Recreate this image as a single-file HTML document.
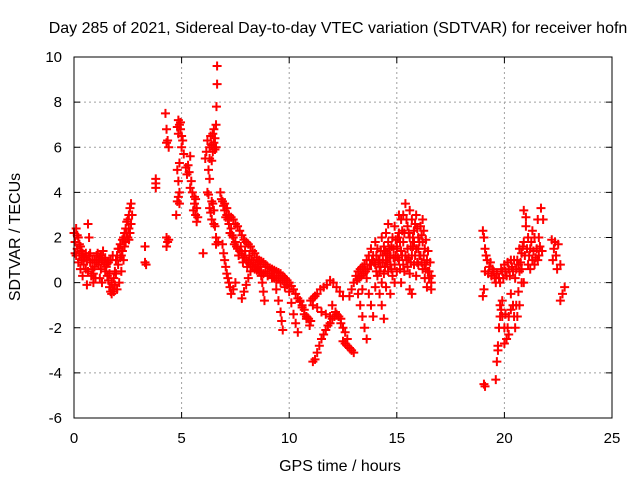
<!DOCTYPE html>
<html><head><meta charset="utf-8"><style>
body{margin:0;background:#fff}
svg{display:block;font-family:"Liberation Sans",sans-serif}
</style></head><body>
<svg id="chart" width="640" height="480">
<rect width="640" height="480" fill="#fff"/>
<text x="338" y="33" font-size="16" text-anchor="middle">Day 285 of 2021, Sidereal Day-to-day VTEC variation (SDTVAR) for receiver hofn</text>
<text x="340" y="471" font-size="16" text-anchor="middle">GPS time / hours</text>
<text transform="translate(20,237) rotate(-90)" font-size="16" text-anchor="middle">SDTVAR / TECUs</text>
<g id="grid"></g><g id="ticks"></g><g id="marks"></g>
<rect x="74" y="57" width="538" height="361" fill="none" stroke="#000" stroke-width="1"/>
</svg>
<script>
const xTicks=[0,5,10,15,20,25];
const yTicks=[-6,-4,-2,0,2,4,6,8,10];
const samples=[
[0,2.2],[0.05,1.8],[0.1,2.4],[0.15,1.5],[0.2,2.0],[0.25,1.2],[0.3,1.6],[0.35,1.0],[0.4,1.3],[0.45,0.8],[0.5,1.1],[0.55,0.6],[0.6,1.0],[0.65,0.5],[0.7,1.2],[0.75,0.9],[0.8,0.3],[0.85,1.0],[0.9,0.4],[0.95,1.0],[1.0,0.2],[1.05,0.9],[1.1,1.3],[1.15,0.8],[1.2,1.1],[1.25,0.6],[1.3,1.0],[1.35,1.4],[1.4,0.9],[1.45,1.1],[1.5,0.7],[1.55,0.3],[1.6,0.1],[1.65,-0.2],[1.7,-0.4],[1.75,-0.5],[1.8,-0.3],[1.85,0.2],[1.9,0.5],[1.95,1.0],[2.0,1.2],[2.05,0.8],[2.1,1.5],[2.15,1.7],[2.2,1.2],[2.25,1.9],[2.3,2.0],[2.35,1.6],[2.4,2.4],[2.45,2.2],[2.5,2.8],[2.55,3.0],[2.6,3.3],[2.65,2.6],[0.3,0.6],[0.4,0.3],[0.6,-0.1],[0.65,2.6],[0.7,2.0],[1.5,0.8],[1.6,0.9],[2.1,0],[2.2,0.5],[2.0,-0.3],[1.2,0.2],[1.3,0.0],[0.9,0.0],[0.1,1.2],[0.2,0.9],[1.7,1.0],[1.8,1.2],[2.3,1.0],[2.5,2.0],[2.6,2.2],
[0.05,1.3],[0.15,2.1],[0.25,1.7],[0.35,1.4],[0.45,1.1],[0.55,1.3],[0.75,1.3],[0.85,0.6],[0.95,0.7],[1.05,1.2],[1.15,1.0],[1.25,1.2],[1.45,0.5],[1.55,0.9],[1.65,0.4],[1.75,0.0],[1.85,-0.4],[1.9,-0.1],[1.95,0.4],[2.05,1.5],[2.15,1.1],[2.25,1.4],[2.35,2.2],[2.45,2.7],[2.55,2.4],[2.65,3.5],[2.7,3.0],[2.4,1.8],[2.55,1.9],
[3.3,1.6],[3.3,0.9],[3.35,0.8],[3.8,4.6],[3.8,4.4],[3.8,4.2],
[4.25,7.5],[4.3,6.8],[4.3,6.2],[4.35,6.3],[4.4,6.0],[4.3,2.0],[4.35,1.8],[4.3,1.6],[4.4,1.9],
[4.8,6.9],[4.85,7.2],[4.9,7.0],[4.95,6.8],[5.0,6.5],[5.05,6.3],[5.1,5.7],[4.8,5.0],[4.85,4.5],[4.9,4.0],[4.8,3.6],[4.75,3.0],[4.85,3.8],[5.2,5.1],[5.3,5.2],[5.35,4.9],[5.4,5.6],[5.45,4.5],
[4.85,6.6],[4.95,7.1],[5.0,6.0],[4.9,5.3],[4.9,3.5],[5.25,4.8],[5.4,4.2],
[5.5,4.0],[5.6,3.5],[5.65,3.0],[5.7,2.7],[5.6,3.8],[5.7,3.3],[5.75,2.9],[6.0,1.3],[5.55,3.2],[5.65,3.7],
[6.1,5.5],[6.15,5.8],[6.2,6.3],[6.25,5.0],[6.3,5.5],[6.35,6.5],[6.4,6.1],[6.45,5.8],[6.5,6.8],[6.55,6.4],[6.6,7.0],[6.62,7.8],[6.65,8.8],[6.65,9.6],[6.2,4.0],[6.3,3.3],[6.4,2.8],[6.45,3.5],[6.5,2.6],[6.55,2.5],[6.6,1.7],[6.25,3.9],[6.35,3.1],
[6.3,6.0],[6.4,5.4],[6.5,6.2],[6.55,5.9],[6.6,6.0],[6.45,6.6],[6.3,4.6],[6.4,3.6],[6.5,3.2],[6.6,2.0],[6.7,1.8],
[6.8,4.0],[6.9,3.6],[7.0,3.2],[7.1,3.0],[7.2,2.6],[7.3,2.4],[7.4,2.0],[7.5,1.8],[7.6,1.5],[7.7,1.4],[7.8,1.3],[7.9,1.1],[8.0,1.0],[8.1,0.9],[8.2,0.8],[8.3,0.7],[8.4,0.6],[8.5,0.55],[8.6,0.5],[8.7,0.45],[8.8,0.4],[9.0,0.3],[9.2,0.2],[9.4,0.1],[9.6,0.0],[9.8,-0.2],
[6.85,3.7],[6.95,3.4],[7.05,2.9],[7.15,2.8],[7.25,2.2],[7.35,2.1],[7.45,1.7],[7.55,1.6],[7.65,1.2],[7.75,1.6],[7.85,0.9],[7.95,1.4],[8.05,0.7],[8.15,1.2],[8.25,1.0],[8.35,0.9],[8.45,0.8],[8.55,0.7],[8.65,0.7],[8.9,0.5],[9.1,0.4],[9.3,0.3],[9.5,0.2],[9.7,0.1],[9.9,-0.1],
[7.0,3.5],[7.1,3.3],[7.2,3.0],[7.3,2.9],[7.4,2.8],[7.5,2.6],[7.6,2.5],[7.7,2.3],[7.8,2.1],[7.9,1.9],[8.0,1.8],[8.1,1.7],[8.2,1.6],[8.3,1.4],[8.4,1.3],[8.5,1.1],[8.6,1.0],[8.7,0.95],[8.8,0.9],[8.9,0.8],[9.0,0.7],[9.1,0.65],[9.2,0.6],[9.3,0.55],[9.4,0.5],[9.5,0.45],[9.6,0.4],[9.7,0.3],[9.8,0.2],[9.9,0.1],[10.0,0.0],[10.1,-0.15],[10.2,-0.3],[10.3,-0.5],[10.4,-0.7],[10.5,-0.85],[10.6,-1.0],[10.7,-1.2],[10.8,-1.5],[10.9,-1.6],[11.0,-1.7],
[6.9,1.7],[6.95,1.3],[7.0,1.0],[7.05,0.7],[7.1,0.4],[7.15,0.2],[7.2,0.0],[7.25,-0.2],[7.3,-0.5],[7.4,-0.3],[7.5,0.0],
[8.2,0.5],[8.1,0.2],[8.0,-0.1],[7.9,-0.4],[7.8,-0.7],
[8.7,0.3],[8.75,0.0],[8.8,-0.4],[8.85,-0.8],
[9.3,0.2],[9.4,-0.3],[9.5,-0.8],[9.6,-1.3],[9.65,-1.7],[9.7,-2.1],
[10.0,-0.4],[10.1,-0.9],[10.2,-1.4],[10.3,-1.8],[10.4,-2.2],
[10.5,-0.8],[10.6,-1.1],[10.7,-1.4],[10.8,-1.6],[10.95,-1.9],
[11.0,-0.8],[11.1,-0.7],[11.2,-0.6],[11.3,-0.5],[11.45,-0.3],[11.6,-0.2],[11.75,-0.1],[11.9,0.1],[12.05,0.0],[12.2,-0.2],[12.35,-0.4],[12.5,-0.6],
[11.1,-1.0],[11.3,-1.1],[11.5,-1.3],[11.7,-1.4],[11.9,-1.5],[12.0,-1.0],[12.15,-1.3],[12.3,-1.5],[12.4,-1.8],[12.5,-2.0],[12.6,-2.2],[12.7,-2.5],
[11.1,-3.5],[11.2,-3.4],[11.3,-3.1],[11.4,-2.8],[11.5,-2.5],[11.6,-2.3],[11.7,-2.1],[11.8,-1.9],[11.9,-1.8],[12.0,-1.6],[12.1,-1.5],[12.2,-1.4],[12.3,-1.5],[12.4,-1.6],
[12.5,-2.6],[12.6,-2.7],[12.7,-2.8],[12.8,-2.9],[12.9,-3.0],[13.0,-3.1],
[12.8,-0.6],[12.9,-0.3],[13.0,0.0],[13.1,0.3],[13.2,0.5],[13.3,0.6],[13.4,0.7],[13.5,0.8],[13.6,1.0],[13.7,1.2],[13.8,1.5],[13.9,1.2],[14.0,1.8],[14.1,1.5],[14.2,1.0],[14.3,2.0],[14.4,1.6],[14.5,2.2],[14.6,1.8],[14.7,1.2],[14.8,2.0],[14.9,2.5],[15.0,1.6],[15.1,2.2],[15.2,2.8],[15.3,3.0],[15.4,3.5],[15.5,2.5],[15.6,2.0],[15.7,2.8],[15.8,2.3],[15.9,3.0],[16.0,2.0],[16.1,2.5],[16.2,1.8],[16.3,1.5],[16.4,1.0],[16.5,0.5],[16.6,-0.3],
[13.2,-0.5],[13.3,-1.0],[13.4,-1.5],[13.5,-2.0],[13.6,-2.5],[13.4,-0.3],[13.7,-0.5],[13.8,-1.0],[13.9,-1.5],[14.0,-0.2],[14.1,0.3],[14.2,-0.5],[14.3,-1.0],[14.4,-1.6],[14.5,-0.2],[14.6,0.5],[14.7,-0.5],[14.8,0.3],[14.9,0.8],[15.0,0.5],[15.1,1.0],[15.2,0.0],[15.3,0.8],[15.4,1.2],[15.5,0.7],[15.6,0.4],[15.7,1.2],[15.8,0.8],[15.9,1.5],[16.0,0.8],[16.1,1.2],[16.2,0.6],[16.3,0.2],[16.4,-0.2],[16.5,0.2],[15.6,-0.3],[15.7,-0.5],[13.8,0.8],[14.0,0.8],[14.2,0.5],[14.5,1.0],[14.7,0.8],[15.0,1.5],[15.3,1.8],[15.5,1.5],[16.0,1.5],[15.8,1.8],[14.9,0.0],[14.3,0.0],[13.6,0.2],[14.6,2.6],[15.1,3.0],[15.6,3.2],[16.2,2.8],[14.4,0.4],[15.2,1.4],[15.9,0.3],[16.3,0.8],[16.6,0.3],
[13.15,0.1],[13.25,0.2],[13.35,0.3],[13.45,0.4],[13.55,0.5],[13.65,0.6],[13.75,0.8],[13.85,1.0],[13.95,0.9],[14.05,1.2],[14.15,1.0],[14.25,1.4],[14.35,1.2],[14.45,1.4],[14.55,1.3],[14.65,1.5],[14.75,1.6],[14.85,1.5],[14.95,1.9],[15.05,2.0],[15.15,1.8],[15.25,2.3],[15.35,2.2],[15.45,2.8],[15.55,2.2],[15.65,1.6],[15.75,2.0],[15.85,2.6],[15.95,2.4],[16.05,1.8],[16.15,2.1],[16.25,2.3],[16.35,1.9],[16.45,1.4],[16.55,0.9],[16.6,0.0],
[14.05,0.5],[14.15,0.9],[14.25,0.7],[14.35,0.9],[14.45,0.7],[14.55,0.9],[14.65,1.1],[14.75,0.6],[14.85,1.1],[14.95,1.2],[15.05,1.1],[15.15,0.6],[15.25,1.2],[15.35,0.5],[15.45,1.0],[15.55,1.1],[15.65,0.9],[15.75,1.6],[15.85,1.2],[15.95,0.9],[16.05,1.2],[16.15,0.9],[16.25,1.2],[16.35,0.6],[16.45,0.5],
[19.0,2.3],[19.05,2.0],[19.1,1.5],[19.1,0.5],[19.05,-0.3],[19.0,-0.6],[19.2,1.0],[19.3,0.7],[19.4,0.3],[19.5,0.5],[19.6,0.0],[19.1,-4.6],[19.05,-4.5],[19.6,-4.3],[19.65,-3.5],[19.7,-2.8],[19.75,-2.0],[19.8,-1.5],[19.85,-1.2],[19.9,-1.5],[20.0,-2.0],[20.1,-2.5],[20.2,-1.5],[20.3,-0.5],[20.4,-1.0],[20.5,-2.0],[20.6,-1.5],[20.7,-1.0],[20.8,0.0],[20.7,0.5],[19.8,0.0],[19.9,0.5],[20.0,0.8],[20.1,0.3],[20.2,0.6],[20.3,1.0],[20.4,0.5],[20.5,0.2],[20.6,1.0],[20.7,1.5],[20.8,1.3],[20.9,1.8],[21.0,2.5],[21.1,2.0],[21.2,1.5],[21.3,1.0],[21.4,0.8],[21.5,1.5],[21.55,2.8],[21.6,2.0],[21.3,2.3],[20.9,3.2],[21.0,2.9],[20.8,0.6],[20.9,0.0],[21.1,0.8],[21.2,0.6],[22.2,1.9],[22.3,1.5],[22.4,1.2],[22.5,1.7],[22.6,0.8],[22.7,-0.5],[22.8,-0.2],[22.6,-0.8],[21.8,2.8],[21.7,3.3],[21.4,2.0],[21.6,1.2],[20.2,-2.3],[20.0,-2.7],[19.7,-3.0],
[19.15,1.2],[19.25,0.4],[19.35,0.9],[19.45,0.6],[19.55,0.2],[19.65,0.4],[19.75,0.2],[19.85,0.6],[19.95,0.2],[20.05,0.5],[20.15,0.9],[20.25,0.3],[20.35,0.7],[20.45,1.0],[20.55,0.6],[20.65,0.8],[20.75,0.9],[20.85,1.6],[20.95,1.2],[21.05,1.5],[21.15,1.2],[21.25,1.8],[21.35,1.4],[21.45,1.1],[21.55,1.0],[21.65,1.6],[21.75,1.4],[22.25,1.0],[22.35,1.8],[22.45,0.6],[19.8,-1.0],[19.9,-0.8],[20.05,-1.4],[20.15,-2.0],[20.3,-1.2],[20.45,-1.5],[20.55,-1.0],[20.65,-0.4]
];
const NS='http://www.w3.org/2000/svg';
const X0=74,X1=612,Y0=418,Y1=57;
function xs(t){return X0+(t-0)/(25-0)*(X1-X0);}
function ys(v){return Y0-(v+6)/(10+6)*(Y0-Y1);}
const grid=document.getElementById('grid'),ticks=document.getElementById('ticks'),marks=document.getElementById('marks');
function mk(tag,attrs,parent){const e=document.createElementNS(NS,tag);for(const k in attrs)e.setAttribute(k,attrs[k]);parent.appendChild(e);return e;}
xTicks.forEach(t=>{const x=xs(t);
 if(t>0&&t<25){const g=mk('line',{x1:x,x2:x,y1:Y1,y2:Y0,stroke:'#a0a0a0','stroke-dasharray':'2,3'},grid);
 
 }
 mk('line',{x1:x,x2:x,y1:Y0,y2:Y0-6,stroke:'#000'},ticks);mk('line',{x1:x,x2:x,y1:Y1,y2:Y1+6,stroke:'#000'},ticks);
 const l=mk('text',{x:x,y:443,'font-size':15,'text-anchor':'middle'},ticks);l.textContent=t;
 
 });
yTicks.forEach(v=>{const y=ys(v);
 if(v>-6&&v<10){const g=mk('line',{x1:X0,x2:X1,y1:y,y2:y,stroke:'#a0a0a0','stroke-dasharray':'2,3'},grid);
 
 }
 mk('line',{x1:X0,x2:X0+6,y1:y,y2:y,stroke:'#000'},ticks);mk('line',{x1:X1,x2:X1-6,y1:y,y2:y,stroke:'#000'},ticks);
 const l=mk('text',{x:62,y:y+5,'font-size':15,'text-anchor':'end'},ticks);l.textContent=v;
 
 });
samples.forEach(p=>{const x=xs(p[0]),y=ys(p[1]);
 const m=mk('path',{d:`M${x-4.5},${y}h9M${x},${y-4.5}v9`,stroke:'#ff0000','stroke-width':2,fill:'none'},marks);
 
 });
</script>
</body></html>
